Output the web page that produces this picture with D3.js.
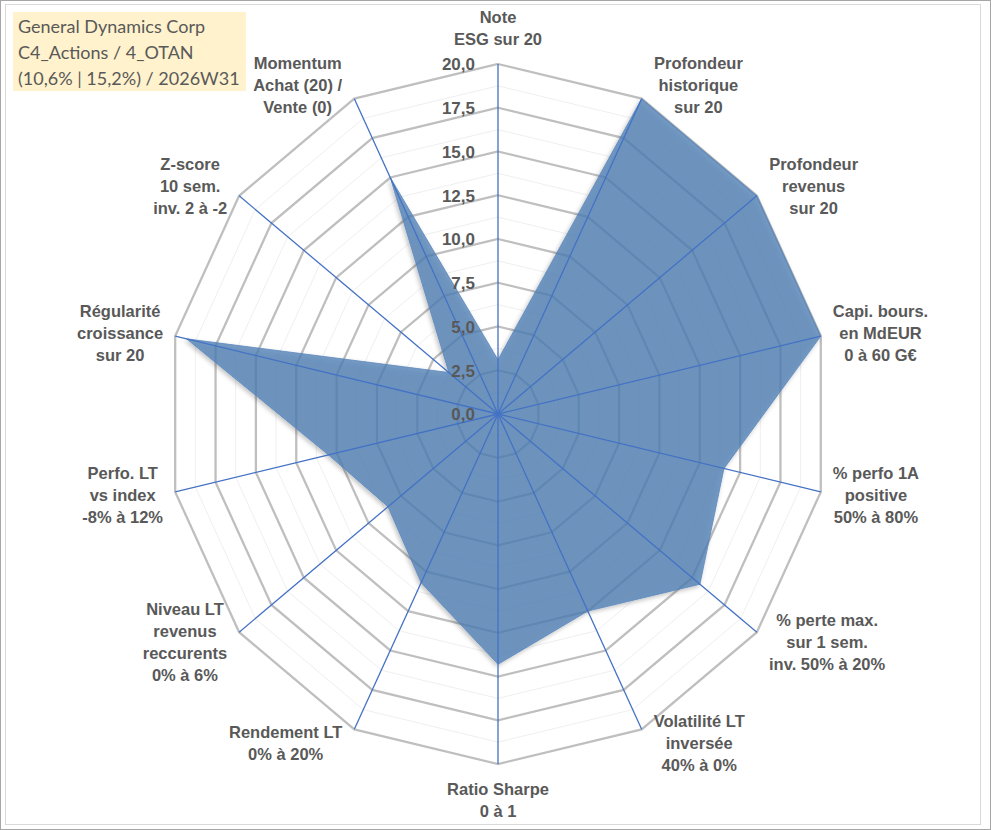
<!DOCTYPE html>
<html>
<head>
<meta charset="utf-8">
<script src="https://cdn.jsdelivr.net/npm/d3@7"></script>
<style>
  body { margin: 0; background: #fff; }
  svg { display: block; }
</style>
</head>
<body>
<div id="container"></div>
<script>
/* DATA */
const titleLines = ["General Dynamics Corp", "C4_Actions / 4_OTAN", "(10,6% | 15,2%) / 2026W31"];

const axisLabels = [
  ["Note", "ESG sur 20"],
  ["Profondeur", "historique", "sur 20"],
  ["Profondeur", "revenus", "sur 20"],
  ["Capi. bours.", "en MdEUR", "0 à 60 G€"],
  ["% perfo 1A", "positive", "50% à 80%"],
  ["% perte max.", "sur 1 sem.", "inv. 50% à 20%"],
  ["Volatilité LT", "inversée", "40% à 0%"],
  ["Ratio Sharpe", "0 à 1"],
  ["Rendement LT", "0% à 20%"],
  ["Niveau LT", "revenus", "reccurents", "0% à 6%"],
  ["Perfo. LT", "vs index", "-8% à 12%"],
  ["Régularité", "croissance", "sur 20"],
  ["Z-score", "10 sem.", "inv. 2 à -2"],
  ["Momentum", "Achat (20) /", "Vente (0)"]
];

const scores = [3.1, 20, 20, 20, 14.0, 15.6, 12.5, 14.3, 10.7, 8.5, 10.5, 19.3, 3.8, 15.0];

const majorTicks = [0, 2.5, 5, 7.5, 10, 12.5, 15, 17.5, 20];
const minorTicks = [1.25, 3.75, 6.25, 8.75, 11.25, 13.75, 16.25, 18.75];

/* CONSTANTS */
const width = 991, height = 830;
const cx = 498, cy = 414;
const squeeze = 0.946; // picture is a bit narrower than tall
const textColor = "#595959";
const fmt = d3.formatLocale({ decimal: ",", thousands: " ", grouping: [3], currency: ["", ""] }).format(".1f");

const rScale = d3.scaleLinear().domain([0, 20]).range([0, 350]);
const angle = d3.scaleLinear().domain([0, axisLabels.length]).range([0, 2 * Math.PI]);

const px = (i, v) => cx + squeeze * rScale(v) * Math.sin(angle(i));
const py = (i, v) => cy - rScale(v) * Math.cos(angle(i));

const idx = d3.range(axisLabels.length);

const svg = d3.select("#container").append("svg")
  .attr("width", width)
  .attr("height", height);

// frame
svg.append("rect")
  .attr("x", 0.5).attr("y", 0.5)
  .attr("width", width - 1).attr("height", height - 1)
  .attr("fill", "#fff").attr("stroke", "#a6a6a6");
svg.append("rect")
  .attr("x", 5.5).attr("y", 4.5)
  .attr("width", 975).attr("height", 820)
  .attr("fill", "none").attr("stroke", "#d9d9d9");

const defs = svg.append("defs");
defs.append("filter")
  .attr("id", "shadow")
  .attr("x", "-10%").attr("y", "-10%").attr("width", "120%").attr("height", "120%")
  .append("feDropShadow")
  .attr("dx", -1.5).attr("dy", 2)
  .attr("stdDeviation", 2)
  .attr("flood-color", "#000")
  .attr("flood-opacity", 0.3);

const ring = d3.line()
  .x(d => d[0]).y(d => d[1])
  .curve(d3.curveLinearClosed);

// gridlines
svg.append("g").selectAll("path")
  .data(minorTicks)
  .join("path")
  .attr("d", t => ring(idx.map(i => [px(i, t), py(i, t)])))
  .attr("fill", "none")
  .attr("stroke", "#efefef")
  .attr("stroke-width", 1);

svg.append("g").selectAll("path")
  .data(majorTicks.filter(t => t > 0))
  .join("path")
  .attr("d", t => ring(idx.map(i => [px(i, t), py(i, t)])))
  .attr("fill", "none")
  .attr("stroke", "#bfbfbf")
  .attr("stroke-width", 2.3);

// series area
svg.append("path")
  .attr("d", ring(scores.map((v, i) => [px(i, v), py(i, v)])))
  .attr("fill", "rgb(78,126,180)")
  .attr("fill-opacity", 0.75)
  .attr("stroke", "#5b86bd")
  .attr("stroke-width", 0.8)
  .attr("filter", "url(#shadow)");

// spokes
svg.append("g").selectAll("line")
  .data(idx)
  .join("line")
  .attr("x1", cx).attr("y1", cy)
  .attr("x2", i => px(i, 20))
  .attr("y2", i => py(i, 20))
  .attr("stroke", "#4472c4")
  .attr("stroke-width", 1.3);

// radial tick labels
svg.append("g").selectAll("text")
  .data(majorTicks)
  .join("text")
  .attr("x", cx - 23)
  .attr("y", t => py(0, t) + 2)
  .attr("text-anchor", "end")
  .attr("dominant-baseline", "middle")
  .attr("font-family", "'Liberation Sans', Arial, sans-serif")
  .attr("font-weight", "bold")
  .attr("font-size", 17)
  .attr("fill", textColor)
  .text(t => fmt(t));

// axis labels
const lineH = 22;
const labelG = svg.append("g")
  .attr("font-family", "'Liberation Sans', Arial, sans-serif")
  .attr("font-weight", "bold")
  .attr("font-size", 16.5)
  .attr("fill", textColor);

axisLabels.forEach((lines, i) => {
  const t = labelG.append("text").attr("text-anchor", "middle");
  t.selectAll("tspan")
    .data(lines)
    .join("tspan")
    .attr("x", 0)
    .attr("dy", (d, k) => k === 0 ? 0 : lineH)
    .text(d => d);
  const bb = t.node().getBBox();
  const w = bb.width, h = lines.length * lineH;
  const s = Math.sin(angle(i)), c = Math.cos(angle(i));
  let ox, oy;
  if (Math.abs(s) < 0.01) {
    ox = 0;
    oy = -Math.sign(c) * (h / 2 + 14);
  } else {
    ox = Math.sign(s) * (w / 2 + 12);
    oy = -c * 15;
  }
  const mx = px(i, 20) + ox;
  const my = py(i, 20) + oy;
  // first baseline so that block is centred vertically on my
  t.attr("transform", `translate(${mx},${my - h / 2 + lineH * 0.5 + 6})`);
});

// title box
const titleG = svg.append("g");
titleG.append("rect")
  .attr("x", 13).attr("y", 12)
  .attr("width", 233).attr("height", 79)
  .attr("fill", "#fff2cc");
titleG.selectAll("text")
  .data(titleLines)
  .join("text")
  .attr("x", 18)
  .attr("y", (d, k) => 33 + k * 26)
  .attr("font-family", "Lato, 'Open Sans', sans-serif")
  .attr("font-size", 18)
  .attr("fill", textColor)
  .text(d => d);
</script>
</body>
</html>
